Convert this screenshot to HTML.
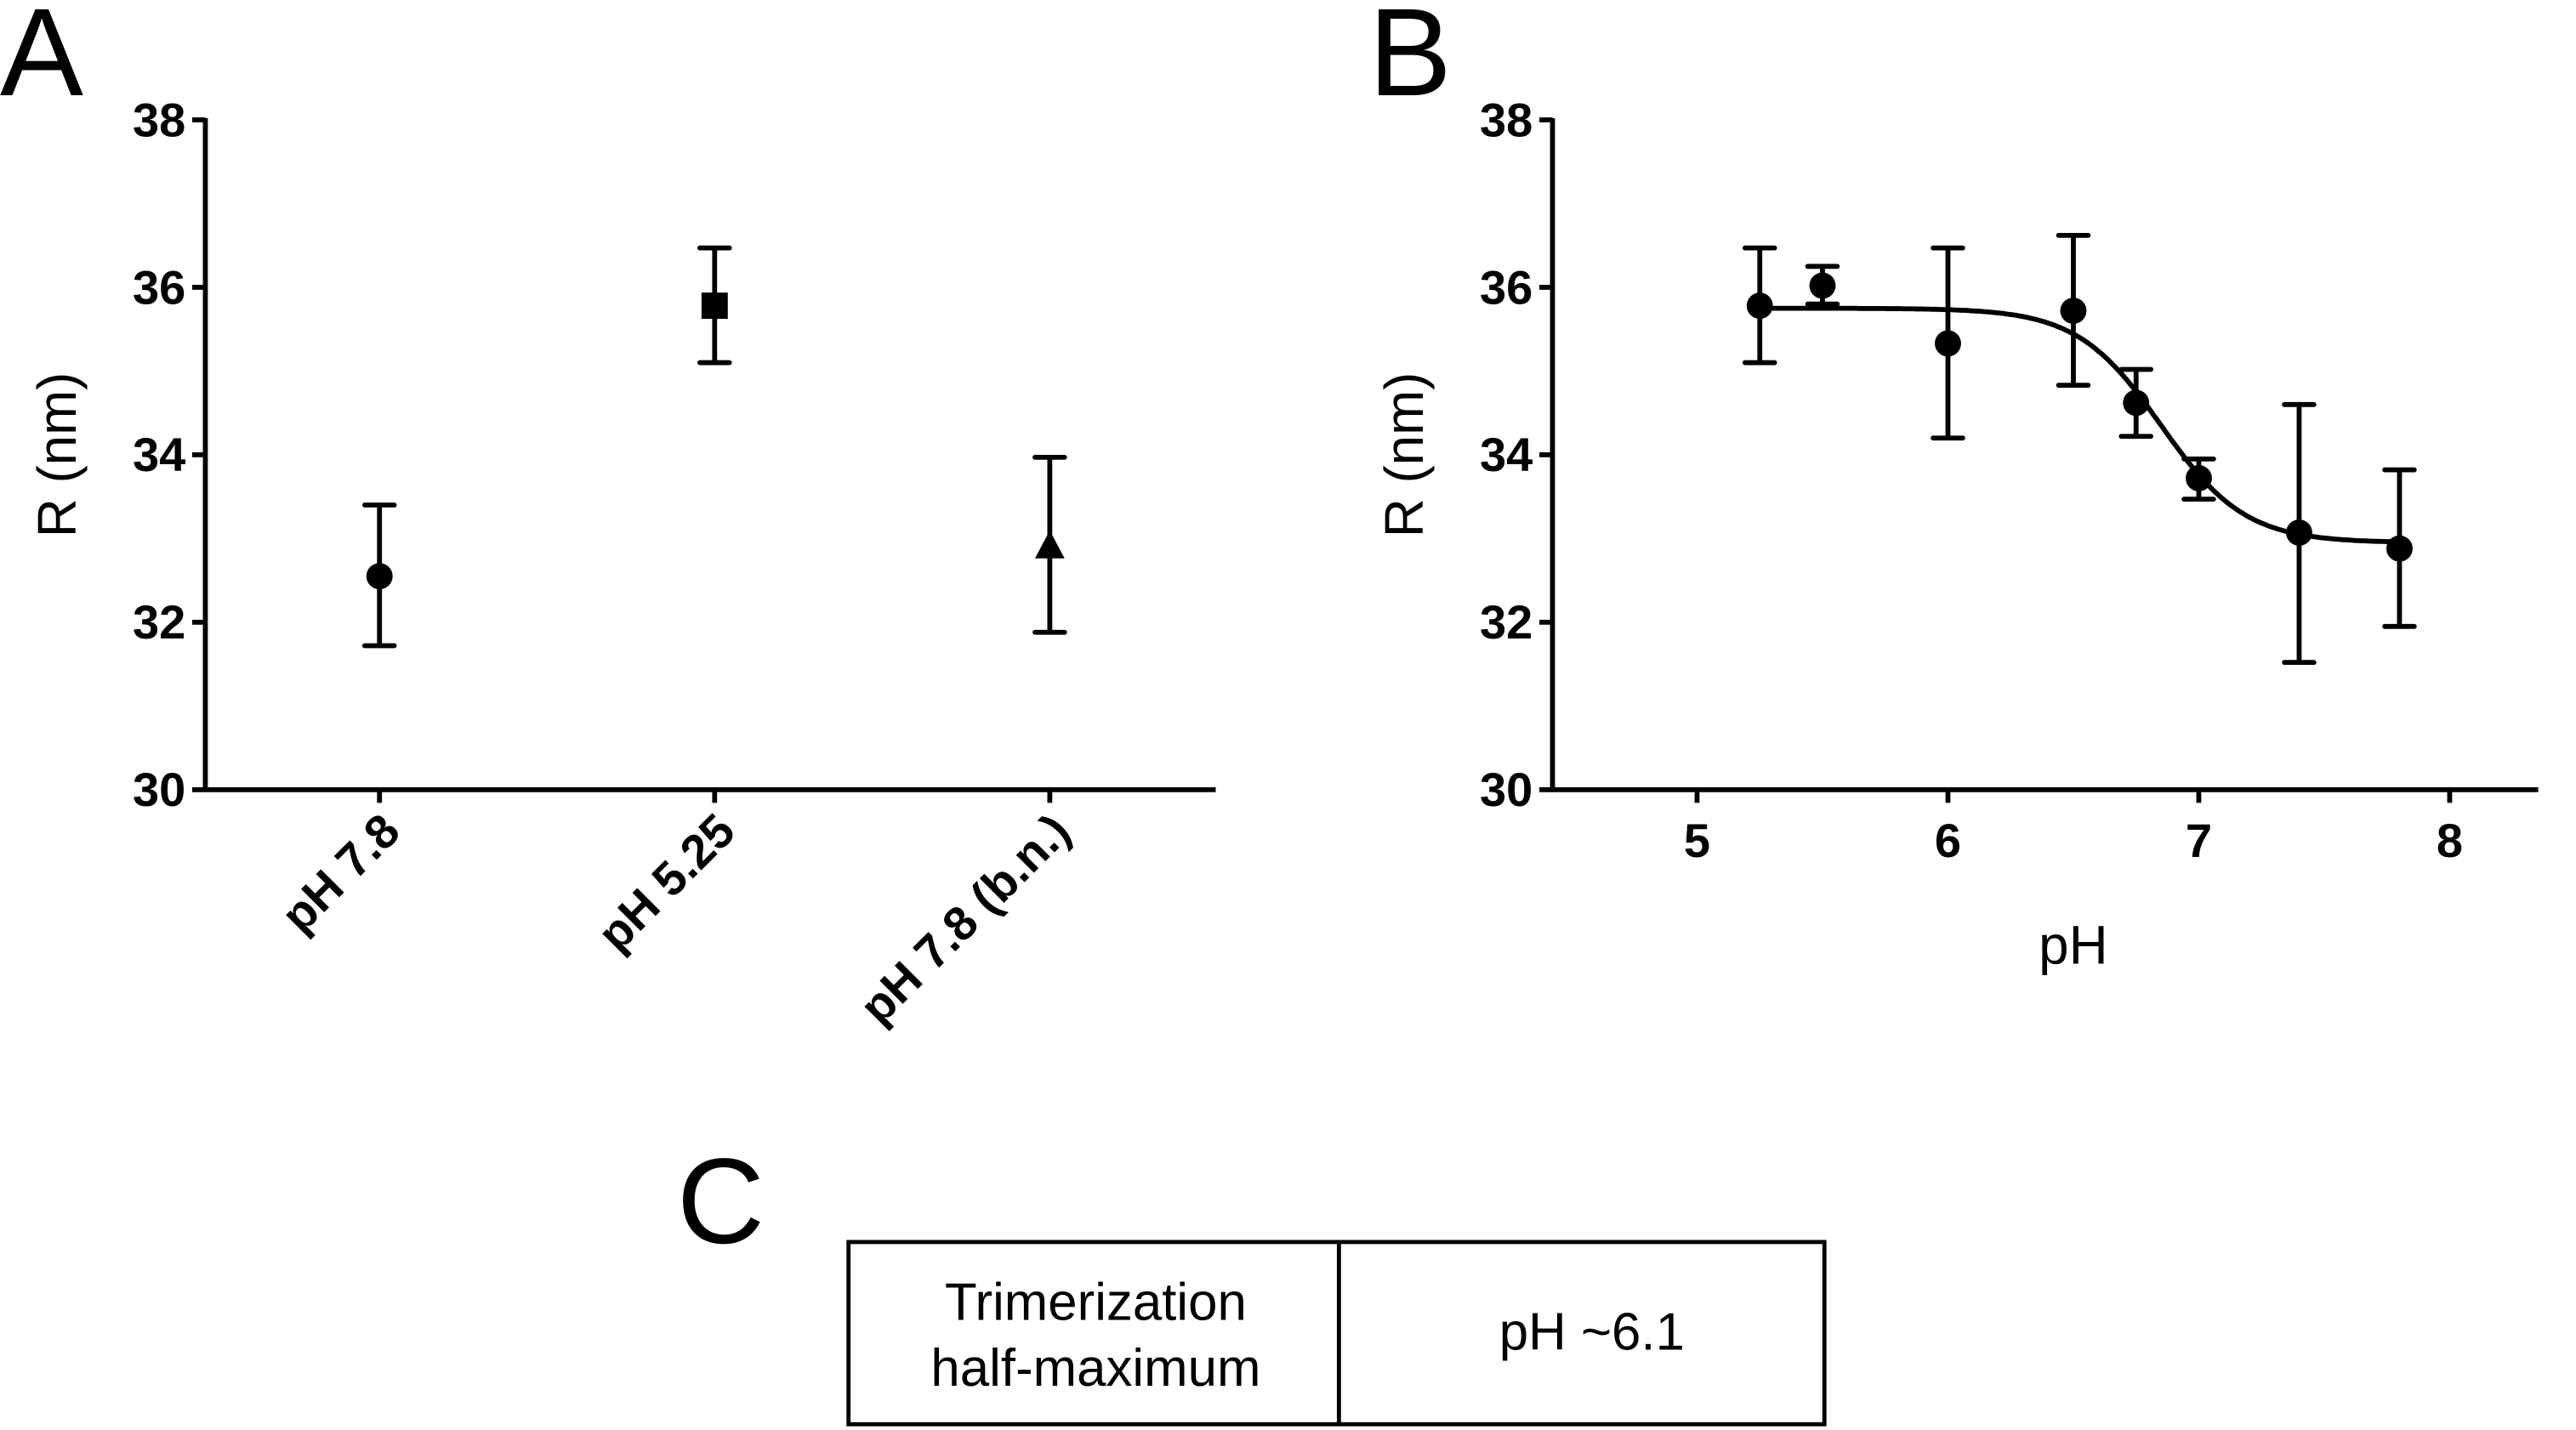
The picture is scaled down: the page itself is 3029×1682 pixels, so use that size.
<!DOCTYPE html>
<html><head><meta charset="utf-8"><style>
html,body{margin:0;padding:0;background:#fff;}
svg{display:block;}
text{font-family:"Liberation Sans",Arial,sans-serif;fill:#000;}
.tk{font-weight:bold;font-size:29px;}
</style></head><body>
<svg id="fig" width="3029" height="1682" viewBox="0 0 1568 871" preserveAspectRatio="none">
<text x="0" y="58" font-size="76">A</text>
<text x="833" y="58" font-size="76">B</text>
<text x="412" y="757" font-size="74">C</text>
<g id="pa"></g>
<g id="pb"></g>
<g>
<rect x="516.5" y="756.5" width="594" height="111" fill="none" stroke="#000" stroke-width="2.5"/>
<line x1="815" y1="756" x2="815" y2="868" stroke="#000" stroke-width="2.5"/>
<text x="667" y="804" font-size="32" text-anchor="middle">Trimerization</text>
<text x="667" y="844" font-size="32" text-anchor="middle">half-maximum</text>
<text x="969" y="822" font-size="32" text-anchor="middle">pH ~6.1</text>
</g>
</svg>
<script>
const yTicks=[30,32,34,36,38];
const aCats=["pH 7.8","pH 5.25","pH 7.8 (b.n.)"];
const aVals=[32.55,35.78,32.9];
const aLo=[31.72,35.1,31.88];
const aHi=[33.4,36.47,33.97];
const aShapes=["circle","square","triangle"];
const bX=[5.25,5.5,6.0,6.5,6.75,7.0,7.4,7.8];
const bVals=[35.78,36.02,35.33,35.72,34.62,33.72,33.07,32.88];
const bLo=[35.1,35.8,34.2,34.83,34.22,33.47,31.52,31.95];
const bHi=[36.47,36.25,36.47,36.62,35.02,33.95,34.6,33.82];
const xTicksB=[5,6,7,8];
const fitTop=35.75, fitBottom=32.95, fitMid=6.85, fitHill=2.6;
const NS="http://www.w3.org/2000/svg";
function mk(p,t,a){const e=document.createElementNS(NS,t);for(const k in a)e.setAttribute(k,a[k]);p.appendChild(e);return e;}
const yS=v=>481-(v-30)*51;
function yAxis(g,x0){
  const ax=mk(g,'line',{x1:x0,y1:72,x2:x0,y2:482,stroke:'#000','stroke-width':3});
  
  
  yTicks.forEach(v=>{
    const t=mk(g,'line',{x1:x0-8,y1:yS(v),x2:x0,y2:yS(v),stroke:'#000','stroke-width':3});
    
    
    const l=mk(g,'text',{x:x0-12,y:yS(v)+10,'text-anchor':'end',class:'tk'});l.textContent=v;
    
    
  });
  const tt=mk(g,'text',{x:0,y:0,'font-size':33,'text-anchor':'middle',transform:`translate(${x0-79},277) rotate(-90)`});
  tt.textContent='R (nm)';
  
  
}
function errBar(g,x,lo,hi){
  const e=mk(g,'path',{d:`M${x},${yS(lo)}V${yS(hi)}M${x-9},${yS(lo)}H${x+9}M${x-9},${yS(hi)}H${x+9}`,stroke:'#000','stroke-width':3,fill:'none','stroke-linecap':'round'});
  
  
}
// Panel A
const pa=document.getElementById('pa');
yAxis(pa,125);
const xa=mk(pa,'line',{x1:124,y1:481,x2:740,y2:481,stroke:'#000','stroke-width':3});


const aX=i=>231+i*204;
aCats.forEach((c,i)=>{
  const x=aX(i);
  const t=mk(pa,'line',{x1:x,y1:481,x2:x,y2:489,stroke:'#000','stroke-width':3});
  
  
  const l=mk(pa,'text',{x:0,y:0,'text-anchor':'end',class:'tk',transform:`translate(${x+14},${508}) rotate(-45)`});
  l.textContent=c;
  
  
  errBar(pa,x,aLo[i],aHi[i]);
  const y=yS(aVals[i]);let m;
  if(aShapes[i]==='circle')m=mk(pa,'circle',{cx:x,cy:y,r:8});
  else if(aShapes[i]==='square')m=mk(pa,'rect',{x:x-8,y:y-8,width:16,height:16});
  else m=mk(pa,'polygon',{points:`${x},${y-10} ${x+9},${y+7} ${x-9},${y+7}`});
  
  
});
// Panel B
const pb=document.getElementById('pb');
yAxis(pb,945);
const xS=v=>1033+(v-5)*152.7;
const xb=mk(pb,'line',{x1:944,y1:481,x2:1545,y2:481,stroke:'#000','stroke-width':3});


xTicksB.forEach(v=>{
  const t=mk(pb,'line',{x1:xS(v),y1:481,x2:xS(v),y2:489,stroke:'#000','stroke-width':3});
  
  
  const l=mk(pb,'text',{x:xS(v),y:522,'text-anchor':'middle',class:'tk'});l.textContent=v;
  
  
});
const xt=mk(pb,'text',{x:1262,y:587,'font-size':33,'text-anchor':'middle'});xt.textContent='pH';


let d='';
for(let i=0;i<=200;i++){const x=bX[0]+(bX[bX.length-1]-bX[0])*i/200;
  const y=fitBottom+(fitTop-fitBottom)/(1+Math.pow(10,(x-fitMid)*fitHill));
  d+=(i?'L':'M')+xS(x).toFixed(1)+','+yS(y).toFixed(1);}
const fc=mk(pb,'path',{d:d,stroke:'#000','stroke-width':3,fill:'none'});


bX.forEach((x,i)=>{
  errBar(pb,xS(x),bLo[i],bHi[i]);
  const c=mk(pb,'circle',{cx:xS(x),cy:yS(bVals[i]),r:8});
  
  
});
</script>
</body></html>
